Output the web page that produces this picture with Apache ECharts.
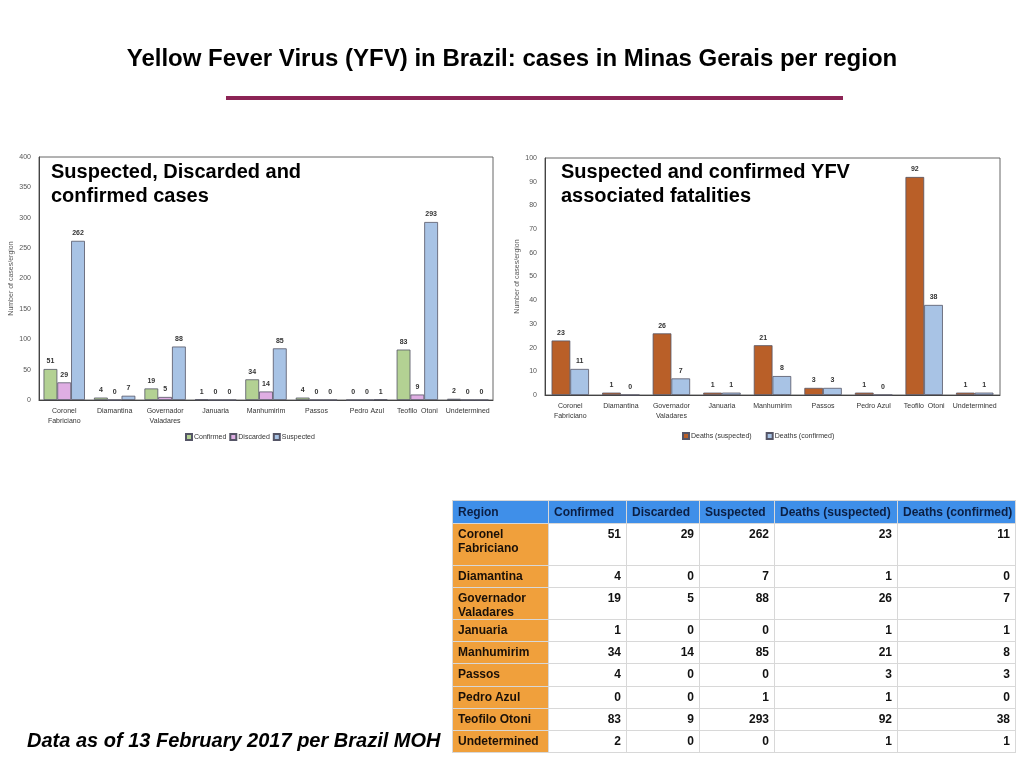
<!DOCTYPE html>
<html>
<head>
<meta charset="utf-8">
<title>YFV Brazil</title>
<script src="https://cdn.jsdelivr.net/npm/echarts@6/dist/echarts.min.js"></script>
<style>
  html, body { margin: 0; padding: 0; background: #fff; }
  #main { position: absolute; left: 0; top: 0; width: 1024px; height: 768px; }
  #tbl { position: absolute; left: 452px; top: 500px; width: 563px; table-layout: fixed; border-collapse: collapse;
         font-family: "Liberation Sans", Arial, sans-serif; font-size: 12px; font-weight: bold; color: #111; line-height: 14px; }
  #tbl td, #tbl th { border: 1px solid #d8d8d8; padding: 3px 5px 0 5px; vertical-align: top; white-space: nowrap; overflow: hidden; }
  #tbl th { background: #3f8fe9; color: #0b1f44; text-align: left; font-weight: bold; vertical-align: middle; padding-top: 0; }
  #tbl td.r { background: #f0a03c; text-align: left; color: #1a1008; }
  #tbl td.n { text-align: right; }
</style>
</head>
<body>
<div id="main"></div>
<table id="tbl"></table>
<script type="text/javascript">
var regions = ['Coronel\nFabriciano', 'Diamantina', 'Governador\nValadares', 'Januaria', 'Manhumirim',
               'Passos', 'Pedro Azul', 'Teofilo  Otoni', 'Undetermined'];
var tableRegions = ['Coronel<br>Fabriciano', 'Diamantina', 'Governador<br>Valadares', 'Januaria', 'Manhumirim',
                    'Passos', 'Pedro Azul', 'Teofilo Otoni', 'Undetermined'];
var confirmed = [51, 4, 19, 1, 34, 4, 0, 83, 2];
var discarded = [29, 0, 5, 0, 14, 0, 0, 9, 0];
var suspected = [262, 7, 88, 0, 85, 0, 1, 293, 0];
var deathsSuspected = [23, 1, 26, 1, 21, 3, 1, 92, 1];
var deathsConfirmed = [11, 0, 7, 1, 8, 3, 0, 38, 1];
var tableHeaders = ['Region', 'Confirmed', 'Discarded', 'Suspected', 'Deaths (suspected)', 'Deaths (confirmed)'];
var colWidths = [96, 78, 73, 75, 123, 118];
var rowHeights = [42, 22, 32, 22, 22, 23, 22, 22, 22];

// table
var tbl = document.getElementById('tbl');
var html = '<colgroup>';
colWidths.forEach(function (w) { html += '<col style="width:' + w + 'px">'; });
html += '</colgroup><tr style="height:23px">';
tableHeaders.forEach(function (h) { html += '<th>' + h + '</th>'; });
html += '</tr>';
tableRegions.forEach(function (r, i) {
    var vals = [confirmed[i], discarded[i], suspected[i], deathsSuspected[i], deathsConfirmed[i]];
    html += '<tr style="height:' + rowHeights[i] + 'px"><td class="r">' + r + '</td>';
    vals.forEach(function (v) { html += '<td class="n">' + v + '</td>'; });
    html += '</tr>';
});
tbl.innerHTML = html;

var font = '"Liberation Sans", Arial, sans-serif';
var barLabel = { show: true, position: 'top', fontSize: 7, fontWeight: 'bold', color: '#333', fontFamily: font, distance: 4 };
var barBorder = { borderColor: '#556', borderWidth: 0.8 };
function axisX(idx) {
    return {
        type: 'category', gridIndex: idx, data: regions,
        axisTick: { show: false },
        axisLine: { lineStyle: { color: '#444' } },
        axisLabel: { fontSize: 7, color: '#333', fontFamily: font, interval: 0, lineHeight: 10, margin: 6 }
    };
}
function axisY(idx, max, interval) {
    return {
        type: 'value', gridIndex: idx, min: 0, max: max, interval: interval,
        name: 'Number of cases/ergion', nameLocation: 'middle', nameGap: 24,
        nameTextStyle: { fontSize: 7, color: '#555', fontFamily: font },
        axisLine: { show: true, lineStyle: { color: '#444' } },
        axisTick: { show: false },
        splitLine: { show: false },
        axisLabel: { fontSize: 7, color: '#555', fontFamily: font, margin: 8 }
    };
}

var myChart = echarts.init(document.getElementById('main'));
myChart.setOption({
    animation: false,
    textStyle: { fontFamily: font },
    grid: [
        { left: 39, right: 531, top: 157, bottom: 368, show: true, borderColor: '#666', borderWidth: 1 },
        { left: 545, right: 24, top: 158, bottom: 373, show: true, borderColor: '#666', borderWidth: 1 }
    ],
    xAxis: [axisX(0), axisX(1)],
    yAxis: [axisY(0, 400, 50), axisY(1, 100, 10)],
    legend: [
        { data: ['Confirmed', 'Discarded', 'Suspected'], left: 180, top: 428, itemWidth: 6, itemHeight: 6, itemGap: 3,
          textStyle: { fontSize: 7, color: '#333', padding: [0, 0, 0, -3] }, icon: 'rect' },
        { data: ['Deaths (suspected)', 'Deaths (confirmed)'], left: 677, top: 427, itemWidth: 6, itemHeight: 6, itemGap: 14,
          textStyle: { fontSize: 7, color: '#333', padding: [0, 0, 0, -3] }, icon: 'rect' }
    ],
    series: [
        { name: 'Confirmed', type: 'bar', xAxisIndex: 0, yAxisIndex: 0, data: confirmed, barGap: '0%', barCategoryGap: '18%',
          itemStyle: Object.assign({ color: '#b3d193' }, barBorder), label: barLabel },
        { name: 'Discarded', type: 'bar', xAxisIndex: 0, yAxisIndex: 0, data: discarded, barGap: '0%', barCategoryGap: '18%',
          itemStyle: Object.assign({ color: '#dfaee3' }, barBorder), label: barLabel },
        { name: 'Suspected', type: 'bar', xAxisIndex: 0, yAxisIndex: 0, data: suspected, barGap: '0%', barCategoryGap: '18%',
          itemStyle: Object.assign({ color: '#a8c3e5' }, barBorder), label: barLabel },
        { name: 'Deaths (suspected)', type: 'bar', xAxisIndex: 1, yAxisIndex: 1, data: deathsSuspected, barGap: '0%', barCategoryGap: '26%',
          itemStyle: Object.assign({ color: '#b95f28' }, barBorder), label: barLabel },
        { name: 'Deaths (confirmed)', type: 'bar', xAxisIndex: 1, yAxisIndex: 1, data: deathsConfirmed, barGap: '0%', barCategoryGap: '26%',
          itemStyle: Object.assign({ color: '#a8c3e5' }, barBorder), label: barLabel }
    ],
    graphic: [
        { type: 'text', left: 'center', top: 47, style: { text: 'Yellow Fever Virus (YFV) in Brazil: cases in Minas Gerais per region',
          fontSize: 24, fontWeight: 'bold', fill: '#000', fontFamily: font } },
        { type: 'rect', shape: { x: 226, y: 96, width: 617, height: 4 }, style: { fill: '#8c2455' } },
        { type: 'text', left: 51, top: 160, style: { text: 'Suspected, Discarded and\nconfirmed cases',
          fontSize: 20, fontWeight: 'bold', fill: '#000', fontFamily: font, lineHeight: 24 } },
        { type: 'text', left: 561, top: 160, style: { text: 'Suspected and confirmed YFV\nassociated fatalities',
          fontSize: 20, fontWeight: 'bold', fill: '#000', fontFamily: font, lineHeight: 24 } },
        { type: 'text', left: 27, top: 731, style: { text: 'Data as of 13 February 2017 per Brazil MOH',
          fontSize: 20, fontWeight: 'bold', fontStyle: 'italic', fill: '#000', fontFamily: font } }
    ]
});
</script>
</body>
</html>
